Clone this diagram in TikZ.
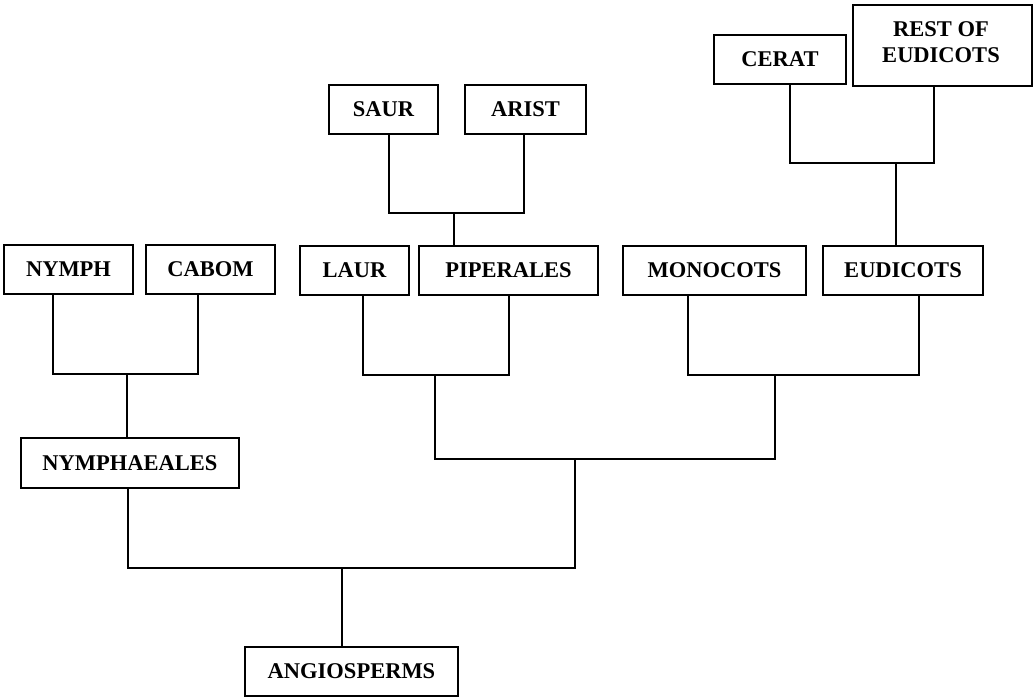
\documentclass[tikz,border=0pt]{standalone}
\usepackage{fontspec}
\setmainfont{Liberation Serif}
\begin{document}
\begin{tikzpicture}[x=1pt,y=-1pt,
  taxon/.style={draw,line width=2.3pt,inner sep=0pt,align=center,
    font=\fontsize{22.5}{25.5}\selectfont\bfseries},
  branch/.style={line width=2.8pt}]
\useasboundingbox (0,0) rectangle (1033,697);

% terminal and internal taxa
\node[taxon,minimum width=129,minimum height=49] (nymph)       at (68.5,269.5) {NYMPH};
\node[taxon,minimum width=129,minimum height=49] (cabom)       at (210.5,269.5) {CABOM};
\node[taxon,minimum width=109,minimum height=49] (laur)        at (354.5,270.5) {LAUR};
\node[taxon,minimum width=179,minimum height=49] (piperales)   at (508.5,270.5) {PIPERALES};
\node[taxon,minimum width=183,minimum height=49] (monocots)    at (714.5,270.5) {MONOCOTS};
\node[taxon,minimum width=160,minimum height=49] (eudicots)    at (903,270.5) {EUDICOTS};
\node[taxon,minimum width=109,minimum height=49] (saur)        at (383.5,109.5) {SAUR};
\node[taxon,minimum width=121,minimum height=49] (arist)       at (525.5,109.5) {ARIST};
\node[taxon,minimum width=132,minimum height=49] (cerat)       at (780,59.5) {CERAT};
\node[taxon,minimum width=179,minimum height=81] (rest)        at (942.5,45.5) {};
\node[font=\fontsize{22.5}{25.5}\selectfont\bfseries,align=center,inner sep=0pt]
  (resttext) at (941,42) {REST OF\\EUDICOTS};
\node[taxon,minimum width=218,minimum height=50] (nymphaeales) at (130,463) {NYMPHAEALES};
\node[taxon,minimum width=213,minimum height=49] (angio)       at (351.5,671.5) {ANGIOSPERMS};

% branching points
\coordinate (jNC)   at (127,374);
\coordinate (jLP)   at (435,375);
\coordinate (jME)   at (775,375);
\coordinate (jSA)   at (454,213);
\coordinate (jCR)   at (896,163);
\coordinate (jMid)  at (575,459);
\coordinate (jRoot) at (342,568);

% Nymphaeales
\draw[branch] ([xshift=-15.5pt]nymph.south) |- (jNC) -| ([xshift=-12.5pt]cabom.south);
\draw[branch] (jNC) -- (jNC |- nymphaeales.north);

% Piperales
\draw[branch] ([xshift=5.5pt]saur.south) |- (jSA) -| ([xshift=-1.5pt]arist.south);
\draw[branch] (jSA) -- (jSA |- piperales.north);

% Eudicots
\draw[branch] ([xshift=10pt]cerat.south) |- (jCR) -| ([xshift=-8.5pt]rest.south);
\draw[branch] (jCR) -- (jCR |- eudicots.north);

% Magnoliids and monocots + eudicots
\draw[branch] ([xshift=8.5pt]laur.south) |- (jLP) -| ([xshift=0.5pt]piperales.south);
\draw[branch] ([xshift=-26.5pt]monocots.south) |- (jME) -| ([xshift=16pt]eudicots.south);
\draw[branch] (jLP) |- (jMid) -| (jME);

% root
\draw[branch] ([xshift=-2pt]nymphaeales.south) |- (jRoot) -| (jMid);
\draw[branch] (jRoot) -- (jRoot |- angio.north);
\end{tikzpicture}
\end{document}
